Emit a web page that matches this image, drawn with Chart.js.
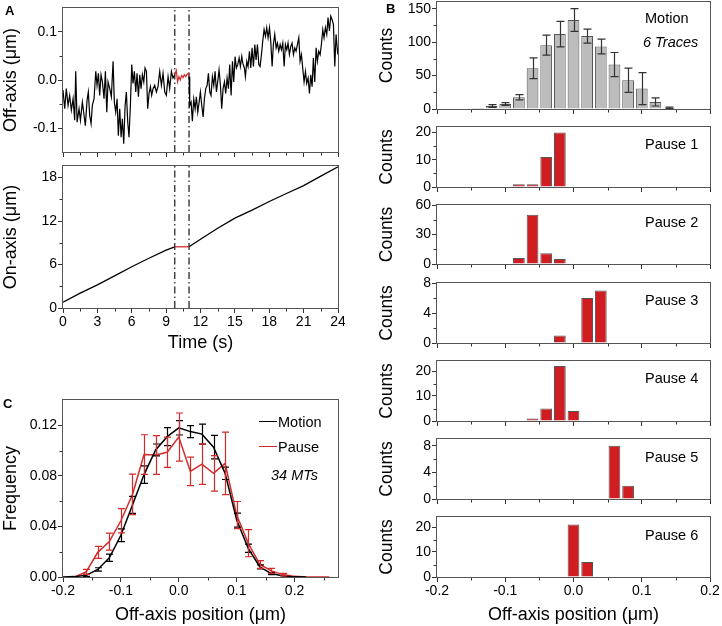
<!DOCTYPE html>
<html>
<head>
<meta charset="utf-8">
<script src="https://cdn.jsdelivr.net/npm/chart.js@4.4.1/dist/chart.umd.min.js"></script>
<style>
  body { margin: 0; background: #fff; }
  #fig { position: relative; width: 722px; height: 626px; overflow: hidden; font-family: Arial, "Liberation Sans", sans-serif; color: #000; }
  #fig canvas { position: absolute; }
  .lbl { position: absolute; font-size: 14.5px; line-height: 16px; white-space: nowrap; }
  .it { font-style: italic; }
  .pl { position: absolute; font-weight: bold; font-size: 13px; line-height: 14px; }
  .key { position: absolute; width: 18px; height: 0; border-top: 1.5px solid; }
</style>
</head>
<body>
<div id="fig">
  <canvas id="aOff" width="345" height="160" style="left:0;top:0"></canvas>
  <canvas id="aOn" width="345" height="196" style="left:0;top:160px"></canvas>
  <canvas id="cFreq" width="345" height="234" style="left:0;top:392px"></canvas>
  <canvas id="bMotion" width="345" height="117" style="left:377px;top:0"></canvas>
  <canvas id="bP1" width="345" height="78" style="left:377px;top:117px"></canvas>
  <canvas id="bP2" width="345" height="77" style="left:377px;top:195px"></canvas>
  <canvas id="bP3" width="345" height="78" style="left:377px;top:273px"></canvas>
  <canvas id="bP4" width="345" height="78" style="left:377px;top:351px"></canvas>
  <canvas id="bP5" width="345" height="78" style="left:377px;top:429px"></canvas>
  <canvas id="bP6" width="345" height="119" style="left:377px;top:507px"></canvas>

  <div class="pl" style="left:5px;top:4px">A</div>
  <div class="pl" style="left:386px;top:2px">B</div>
  <div class="pl" style="left:3px;top:397px">C</div>

  <div class="lbl" style="left:645px;top:10px">Motion</div>
  <div class="lbl it" style="left:643px;top:34px">6 Traces</div>
  <div class="lbl" style="left:645px;top:136px">Pause 1</div>
  <div class="lbl" style="left:645px;top:214px">Pause 2</div>
  <div class="lbl" style="left:645px;top:292px">Pause 3</div>
  <div class="lbl" style="left:645px;top:370px">Pause 4</div>
  <div class="lbl" style="left:645px;top:449px">Pause 5</div>
  <div class="lbl" style="left:645px;top:527px">Pause 6</div>

  <div class="key" style="left:259px;top:421px;border-color:#000"></div>
  <div class="lbl" style="left:278px;top:414px">Motion</div>
  <div class="key" style="left:259px;top:446px;border-color:#d42a2a"></div>
  <div class="lbl" style="left:278px;top:439px">Pause</div>
  <div class="lbl it" style="left:271px;top:467px">34 MTs</div>
</div>

<script>
// ---- panel A: single trace ----
const offTime = [
  0.00, 0.15, 0.29, 0.44, 0.58, 0.73, 0.88, 1.02, 1.11, 1.23,
  1.40, 1.52, 1.69, 1.84, 1.95, 2.10, 2.21, 2.33, 2.45, 2.56,
  2.71, 2.86, 2.97, 3.09, 3.20, 3.32, 3.44, 3.58, 3.70, 3.82,
  3.93, 4.08, 4.22, 4.37, 4.48, 4.60, 4.72, 4.83, 4.95, 5.07,
  5.18, 5.30, 5.42, 5.53, 5.65, 5.76, 5.88, 6.00, 6.11, 6.23,
  6.35, 6.46, 6.58, 6.70, 6.81, 6.93, 7.05, 7.16, 7.28, 7.39,
  7.51, 7.63, 7.74, 7.86, 8.00, 8.15, 8.29, 8.44, 8.59, 8.73,
  8.88, 9.02, 9.17, 9.31, 9.46, 9.60,
  9.75, 9.89, 10.00, 10.12, 10.24, 10.36, 10.48, 10.59, 10.71, 10.83, 10.94, 11.00,
  11.06, 11.18, 11.29, 11.41, 11.53, 11.64, 11.76, 11.88, 11.99, 12.11,
  12.23, 12.34, 12.46, 12.58, 12.69, 12.81, 12.92, 13.04, 13.16, 13.27,
  13.39, 13.50, 13.62, 13.74, 13.85, 13.97, 14.09, 14.20, 14.32, 14.44,
  14.55, 14.67, 14.79, 14.90, 15.02, 15.13, 15.25, 15.37, 15.48, 15.60,
  15.69, 15.83, 15.92, 16.04, 16.15, 16.27, 16.39, 16.50, 16.62, 16.74,
  16.85, 16.97, 17.09, 17.20, 17.32, 17.43, 17.55, 17.67, 17.78, 17.90,
  18.02, 18.13, 18.25, 18.36, 18.48, 18.60, 18.71, 18.83, 18.95, 19.06,
  19.18, 19.30, 19.41, 19.53, 19.64, 19.76, 19.88, 19.99, 20.11, 20.23,
  20.34, 20.46, 20.58, 20.69, 20.81, 20.92, 21.04, 21.16, 21.27, 21.39,
  21.51, 21.62, 21.74, 21.85, 21.97, 22.09, 22.20, 22.32, 22.44, 22.55,
  22.67, 22.78, 22.90, 23.02, 23.13, 23.25, 23.37, 23.48, 23.60, 23.72,
  23.83, 23.98
];
const offVal = [
  -0.021, -0.060, -0.018, -0.053, -0.032, -0.063, -0.039, -0.084, 0.018, -0.088,
  -0.060, -0.084, -0.046, -0.074, -0.095, -0.042, -0.025, -0.074, -0.091, -0.053,
  -0.039, 0.018, -0.011, 0.014, -0.032, 0.011, -0.004, -0.039, 0.018, -0.067,
  -0.004, -0.018, -0.035, 0.039, -0.046, -0.067, -0.039, -0.116, -0.060, -0.119,
  -0.081, -0.133, -0.053, -0.025, -0.088, -0.119, -0.053, 0.032, -0.007, 0.018,
  -0.025, 0.014, -0.035, 0.011, -0.018, 0.011, -0.004, 0.025, 0.018, -0.060,
  -0.028, -0.014, -0.032, -0.018, -0.011, -0.025, -0.014, 0.018, -0.011, 0.014,
  -0.025, -0.032, 0.007, -0.018, 0.018, 0.004,
  0.011, 0.020, -0.004, 0.007, 0.000, 0.009, 0.005, 0.011, 0.007, 0.012, 0.014, 0.007,
  -0.053, -0.046, -0.086, -0.040, -0.060, -0.035, -0.067, -0.046, -0.025, -0.053,
  -0.077, -0.039, -0.018, -0.011, 0.014, -0.025, -0.032, 0.007, -0.011, 0.018,
  -0.025, -0.004, 0.021, -0.011, -0.060, -0.018, -0.004, -0.028, 0.004, -0.018,
  0.032, -0.032, 0.039, -0.004, 0.049, 0.025, 0.032, 0.046, 0.028, 0.049,
  0.035, 0.025, 0.007, 0.039, 0.028, 0.060, 0.025, 0.067, 0.028, 0.074,
  0.042, 0.074, 0.032, 0.028, 0.053, 0.081, 0.105, 0.091, 0.109, 0.088,
  0.109, 0.081, 0.028, 0.074, 0.095, 0.067, 0.077, 0.060, 0.074, 0.063,
  0.077, 0.028, 0.074, 0.063, 0.077, 0.053, 0.070, 0.077, 0.053, 0.067,
  0.060, 0.074, 0.088, 0.039, 0.053, 0.025, -0.004, 0.018, -0.007, 0.004,
  -0.028, 0.011, -0.014, 0.046, -0.004, 0.067, 0.039, 0.060, 0.053, 0.074,
  0.105, 0.088, 0.109, 0.095, 0.130, 0.102, 0.133, 0.126, 0.116, 0.028,
  0.095, 0.053
];
const onTime = [0, 1.5, 3, 4.5, 6, 7.5, 9, 9.75, 10.4, 11, 12, 13.5, 15, 16.5, 18, 19.5, 21, 22.5, 24];
const onVal = [0.8, 2.06, 3.2, 4.44, 5.7, 6.87, 8.0, 8.45, 8.45, 8.45, 9.5, 11.0, 12.4, 13.5, 14.7, 15.8, 16.9, 18.2, 19.5];
const pauseWindow = [9.75, 11.0];
const timeTicks = [0, 3, 6, 9, 12, 15, 18, 21, 24];
const offTicks = [-0.1, 0, 0.1];
const onTicks = [0, 6, 12, 18];
const offRange = [-0.15, 0.15];
const onRange = [0, 19.6];

// ---- panel B: histograms ----
const posTicks = [-0.2, -0.1, 0, 0.1, 0.2];
const motionBins = [-0.14, -0.12, -0.10, -0.08, -0.06, -0.04, -0.02, 0, 0.02, 0.04, 0.06, 0.08, 0.10, 0.12, 0.14];
const motionCounts = [1.5, 4.5, 7.5, 17.5, 61, 95.5, 112, 133, 109, 93.5, 66.5, 43, 30.5, 10.5, 2];
const motionErr = [0, 2, 2, 4, 15.5, 15, 19, 17, 10.5, 11, 18, 18, 24, 6, 1];
const pause1Bins = [-0.08, -0.06, -0.04, -0.02], pause1Counts = [1, 1, 11, 20];
const pause2Bins = [-0.08, -0.06, -0.04, -0.02], pause2Counts = [6, 50, 11, 5];
const pause3Bins = [-0.02, 0.02, 0.04], pause3Counts = [1, 6, 7];
const pause4Bins = [-0.06, -0.04, -0.02, 0], pause4Counts = [1, 5, 22, 4];
const pause5Bins = [0.06, 0.08], pause5Counts = [8, 2];
const pause6Bins = [0, 0.02], pause6Counts = [21, 6];

// ---- panel C: pooled frequency ----
const freqTicks = [0, 0.04, 0.08, 0.12];
const motionX = [-0.2, -0.18, -0.16, -0.14, -0.12, -0.10, -0.08, -0.06, -0.04, -0.02, 0,
  0.02, 0.04, 0.06, 0.08, 0.10, 0.12, 0.14, 0.16, 0.18, 0.20, 0.22];
const motionFreq = [0, 0.0003, 0.0013, 0.006, 0.0152, 0.033, 0.057, 0.081, 0.1005, 0.111, 0.118,
  0.115, 0.113, 0.1027, 0.082, 0.045, 0.0227, 0.008, 0.0027, 0.0008, 0.0001, 0];
const motionFreqErr = [0, 0, 0.0008, 0.0013, 0.0029, 0.005, 0.0067, 0.0069, 0.0047, 0.0071, 0.0057,
  0.0048, 0.0079, 0.0093, 0.0049, 0.0056, 0.0033, 0.0016, 0.0008, 0, 0, 0];
const pauseX = [-0.18, -0.16, -0.14, -0.12, -0.10, -0.08, -0.06, -0.04, -0.02, 0,
  0.02, 0.04, 0.06, 0.08, 0.10, 0.12, 0.14, 0.16, 0.18, 0.20, 0.22, 0.24, 0.26];
const pauseFreq = [0, 0.004, 0.0195, 0.028, 0.0445, 0.0653, 0.0968, 0.0965, 0.0987, 0.1107,
  0.0835, 0.0893, 0.082, 0.0899, 0.049, 0.0267, 0.0099, 0.0048, 0.0019, 0.0005, 0, 0, 0];
const pauseFreqErr = [0, 0.002, 0.0047, 0.0067, 0.0096, 0.016, 0.0157, 0.0153, 0.012, 0.019,
  0.0113, 0.016, 0.014, 0.0247, 0.0107, 0.0107, 0.003, 0.002, 0.001, 0, 0, 0, 0];

const BLACK = '#000';
const RED = '#d42a2a';
const BAR_RED = '#d01d22';
const AXIS = '#333';

Chart.defaults.font.family = 'Arial, "Liberation Sans", sans-serif';
Chart.defaults.font.size = 14;
Chart.defaults.color = '#000';

const pts = (xs, ys) => xs.map((x, i) => ({ x: x, y: ys[i] }));

// minor tick step per canvas, read by the frame plugin
const minorSteps = {};

// box around the plot plus short outward minor ticks (major ticks come from the scale grid)
const framePlugin = {
  id: 'frame',
  afterDraw(chart) {
    const ctx = chart.ctx, a = chart.chartArea;
    const L = Math.round(a.left), R = Math.round(a.right), T = Math.round(a.top), B = Math.round(a.bottom);
    ctx.save();
    ctx.lineWidth = 1;
    const steps = minorSteps[chart.canvas.id];
    if (steps) {
      ctx.strokeStyle = AXIS;
      [['x', steps.x], ['y', steps.y]].forEach(([key, step]) => {
        const sc = chart.scales[key];
        const majors = sc.ticks.map(t => t.value);
        for (let k = Math.ceil(sc.min / step - 1e-9); k * step <= sc.max + 1e-9; k++) {
          const v = k * step;
          if (v <= sc.min + step / 10 || v >= sc.max - step / 10) continue;
          if (majors.some(m => Math.abs(m - v) < step / 10)) continue;
          const p = Math.round(sc.getPixelForValue(v)) + 0.5;
          ctx.beginPath();
          if (key === 'x') { ctx.moveTo(p, B); ctx.lineTo(p, B + 3.5); }
          else { ctx.moveTo(L, p); ctx.lineTo(L - 3.5, p); }
          ctx.stroke();
        }
      });
    }
    ctx.strokeStyle = '#555';
    ctx.strokeRect(L - 0.5, T - 0.5, R - L + 1, B - T + 1);
    ctx.restore();
  }
};

// vertical error bars read from dataset.errors
const errorBarPlugin = {
  id: 'errorBars',
  afterDatasetsDraw(chart) {
    const ctx = chart.ctx, ys = chart.scales.y;
    chart.data.datasets.forEach((ds, di) => {
      if (!ds.errors) return;
      const meta = chart.getDatasetMeta(di);
      ctx.save();
      ctx.strokeStyle = ds.errorColor;
      ctx.lineWidth = 1.2;
      meta.data.forEach((el, i) => {
        const e = ds.errors[i];
        if (!e) return;
        const v = ds.data[i].y;
        const x = Math.round(el.x) + 0.5;
        const y1 = ys.getPixelForValue(Math.max(0, v - e)), y2 = ys.getPixelForValue(v + e);
        const c = ds.capHalf;
        ctx.beginPath();
        ctx.moveTo(x, y1); ctx.lineTo(x, y2);
        ctx.moveTo(x - c, y1); ctx.lineTo(x + c, y1);
        ctx.moveTo(x - c, y2); ctx.lineTo(x + c, y2);
        ctx.stroke();
      });
      ctx.restore();
    });
  }
};

Chart.register(framePlugin, errorBarPlugin);

const tickGrid = { display: true, drawOnChartArea: false, drawTicks: true, tickLength: 5, color: AXIS, lineWidth: 1, offset: false };

function makeOptions(id, c) {
  minorSteps[id] = { x: c.xMinor, y: c.yMinor };
  return {
    responsive: false,
    animation: false,
    devicePixelRatio: 1,
    events: [],
    layout: { padding: { top: c.pt, right: c.pr, left: 0, bottom: 0 } },
    plugins: { legend: { display: false }, tooltip: { enabled: false } },
    scales: {
      x: {
        type: 'linear', min: c.xMin, max: c.xMax, offset: false,
        grid: tickGrid,
        border: { display: false },
        afterBuildTicks: s => { s.ticks = c.xTicks.map(v => ({ value: v })); },
        // fixed axis box so the plot area lands where the figure has it
        afterFit: s => { s.height = c.hx; s.paddingLeft = 0; s.paddingRight = 0; },
        ticks: { display: !!c.xFmt, padding: 1, maxRotation: 0, autoSkip: false, callback: c.xFmt || (() => '') },
        title: c.xTitle
          ? { display: true, text: c.xTitle, font: { size: 18 }, padding: { top: 0, bottom: c.xPad || 0 } }
          : { display: false }
      },
      y: {
        type: 'linear', min: c.yMin, max: c.yMax,
        grid: tickGrid,
        border: { display: false },
        afterBuildTicks: s => { s.ticks = c.yTicks.map(v => ({ value: v })); },
        afterFit: s => { s.width = c.wy; s.paddingTop = 0; s.paddingBottom = 0; },
        ticks: { padding: 1, autoSkip: false, callback: c.yFmt },
        title: { display: true, text: c.yTitle, font: { size: c.yTitleSize || 18 }, padding: { top: 0, bottom: 0 } }
      }
    }
  };
}

const pauseSegment = {
  borderColor: ctx => (ctx.p0.parsed.x >= pauseWindow[0] - 1e-6 && ctx.p1.parsed.x <= pauseWindow[1] + 1e-6) ? RED : BLACK
};

function markerLines(range) {
  return pauseWindow.map(t => ({
    data: [{ x: t, y: range[0] }, { x: t, y: range[1] }],
    borderColor: '#444', borderWidth: 1.5, borderDash: [7, 3, 1.5, 3],
    pointRadius: 0, fill: false
  }));
}

// A, off-axis
new Chart(document.getElementById('aOff'), {
  type: 'line',
  data: {
    datasets: [
      { data: pts(offTime, offVal), borderColor: BLACK, borderWidth: 1.2, pointRadius: 0, tension: 0, segment: pauseSegment },
      ...markerLines(offRange)
    ]
  },
  options: makeOptions('aOff', {
    pt: 8, pr: 7, wy: 63, hx: 8,
    xMin: 0, xMax: 24, xTicks: timeTicks, xMinor: 1.5,
    yMin: offRange[0], yMax: offRange[1], yTicks: offTicks, yMinor: 0.05,
    yFmt: v => v.toFixed(1), yTitle: 'Off-axis (μm)'
  })
});

// A, on-axis
new Chart(document.getElementById('aOn'), {
  type: 'line',
  data: {
    datasets: [
      { data: pts(onTime, onVal), borderColor: BLACK, borderWidth: 1.3, pointRadius: 0, tension: 0, segment: pauseSegment },
      ...markerLines(onRange)
    ]
  },
  options: makeOptions('aOn', {
    pt: 6, pr: 7, wy: 63, hx: 48,
    xMin: 0, xMax: 24, xTicks: timeTicks, xMinor: 1.5, xFmt: v => String(v),
    xTitle: 'Time (s)', xPad: 2,
    yMin: onRange[0], yMax: onRange[1], yTicks: onTicks, yMinor: 3,
    yFmt: v => String(v), yTitle: 'On-axis (μm)'
  })
});

// B, histograms
function histogram(id, bins, counts, yMax, yTicks, yMinor, color, last, errs) {
  const ds = {
    data: pts(bins, counts),
    backgroundColor: color, borderColor: '#555', borderWidth: 1,
    barPercentage: 0.86, categoryPercentage: 1
  };
  if (errs) { ds.errors = errs; ds.errorColor = '#333'; ds.capHalf = 4; }
  const top = (id === 'bMotion') ? 2 : 10;
  new Chart(document.getElementById(id), {
    type: 'bar',
    data: { datasets: [ds] },
    options: makeOptions(id, {
      pt: top, pr: 12, wy: 60, hx: last ? 49 : 8,
      xMin: -0.2, xMax: 0.2, xTicks: posTicks, xMinor: 0.05,
      xFmt: last ? (v => v.toFixed(1)) : null,
      xTitle: last ? 'Off-axis position (μm)' : null, xPad: 0,
      yMin: 0, yMax: yMax, yTicks: yTicks, yMinor: yMinor,
      yFmt: v => String(v), yTitle: 'Counts', yTitleSize: 17.5
    })
  });
}

histogram('bMotion', motionBins, motionCounts, 160, [0, 50, 100, 150], 25, '#bcbcbc', false, motionErr);
histogram('bP1', pause1Bins, pause1Counts, 22, [0, 10, 20], 5, BAR_RED, false);
histogram('bP2', pause2Bins, pause2Counts, 60, [0, 30, 60], 15, BAR_RED, false);
histogram('bP3', pause3Bins, pause3Counts, 8, [0, 4, 8], 2, BAR_RED, false);
histogram('bP4', pause4Bins, pause4Counts, 24, [0, 10, 20], 5, BAR_RED, false);
histogram('bP5', pause5Bins, pause5Counts, 9, [0, 4, 8], 2, BAR_RED, false);
histogram('bP6', pause6Bins, pause6Counts, 24, [0, 10, 20], 5, BAR_RED, true);

// C, frequency
new Chart(document.getElementById('cFreq'), {
  type: 'line',
  data: {
    datasets: [
      { data: pts(motionX, motionFreq), borderColor: BLACK, borderWidth: 1.5, pointRadius: 0, tension: 0,
        errors: motionFreqErr, errorColor: BLACK, capHalf: 3.5 },
      { data: pts(pauseX, pauseFreq), borderColor: RED, borderWidth: 1.5, pointRadius: 0, tension: 0,
        errors: pauseFreqErr, errorColor: RED, capHalf: 3.5 }
    ]
  },
  options: makeOptions('cFreq', {
    pt: 8, pr: 7, wy: 63, hx: 49,
    xMin: -0.2, xMax: 0.275, xTicks: posTicks, xMinor: 0.05, xFmt: v => v.toFixed(1),
    xTitle: 'Off-axis position (μm)', xPad: 0,
    yMin: 0, yMax: 0.14, yTicks: freqTicks, yMinor: 0.02,
    yFmt: v => v.toFixed(2), yTitle: 'Frequency'
  })
});
</script>
</body>
</html>
